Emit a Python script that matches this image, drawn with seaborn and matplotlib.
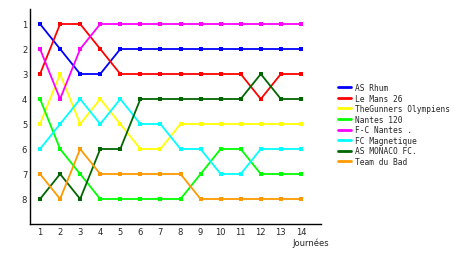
import matplotlib
matplotlib.use("Agg")
import matplotlib.pyplot as plt
import seaborn as sns
import pandas as pd
from matplotlib.lines import Line2D

journees = list(range(1, 15))
teams = ["AS Rhum", "Le Mans 26", "TheGunners Olympiens", "Nantes 120",
         "F-C Nantes .", "FC Magnetique", "AS MONACO FC.", "Team du Bad"]
colors = ["#0000FF", "#FF0000", "#FFFF00", "#00FF00",
          "#FF00FF", "#00FFFF", "#006600", "#FF9900"]

as_rhum     = [1, 2, 3, 3, 2, 2, 2, 2, 2, 2, 2, 2, 2, 2]
le_mans     = [3, 1, 1, 2, 3, 3, 3, 3, 3, 3, 3, 4, 3, 3]
gunners     = [5, 3, 5, 4, 5, 6, 6, 5, 5, 5, 5, 5, 5, 5]
nantes120   = [4, 6, 7, 8, 8, 8, 8, 8, 7, 6, 6, 7, 7, 7]
fc_nantes   = [2, 4, 2, 1, 1, 1, 1, 1, 1, 1, 1, 1, 1, 1]
magnetique  = [6, 5, 4, 5, 4, 5, 5, 6, 6, 7, 7, 6, 6, 6]
monaco      = [8, 7, 8, 6, 6, 4, 4, 4, 4, 4, 4, 3, 4, 4]
team_bad    = [7, 8, 6, 7, 7, 7, 7, 7, 8, 8, 8, 8, 8, 8]

series = [as_rhum, le_mans, gunners, nantes120, fc_nantes, magnetique, monaco, team_bad]

rows = []
for t, s in zip(teams, series):
    for j, v in zip(journees, s):
        rows.append({"journee": j, "rang": v, "team": t})
df = pd.DataFrame(rows)

sns.set_style("white")
plt.rcParams["font.family"] = ["DejaVu Sans"]

fig = plt.figure(figsize=(4.6, 2.55), dpi=100)
ax = fig.add_axes([30/460, 1 - 225/255, (321-30)/460, (225-10)/255])

sns.lineplot(data=df, x="journee", y="rang", hue="team", hue_order=teams,
             palette=dict(zip(teams, colors)), marker="s", markersize=3.2,
             markeredgewidth=0, linewidth=1.3, ax=ax, legend=False)

ax.set_xlim(0.5, 15.0)
ax.set_ylim(9.0, 0.4)
ax.set_xticks(journees)
ax.set_yticks(range(1, 9))
ax.tick_params(axis="both", length=0, labelsize=6, pad=2)
ax.set_xlabel("")
ax.set_ylabel("")
for side in ["top", "right"]:
    ax.spines[side].set_visible(False)
for side in ["left", "bottom"]:
    ax.spines[side].set_color("black")
    ax.spines[side].set_linewidth(1.0)

fig.text(292/460, 1 - 243/255, "Journées", fontsize=6, va="center", ha="left")

handles = [Line2D([0], [0], color=c, lw=2) for c in colors]
fig.legend(handles, teams, loc="upper left", bbox_to_anchor=(338/460, 1 - 84/255),
           frameon=False, prop={"family": "DejaVu Sans Mono", "size": 5.7},
           handlelength=1.7, handletextpad=0.4, labelspacing=0.2,
           borderpad=0, borderaxespad=0)

fig.savefig("out.png", dpi=100, facecolor="white")
